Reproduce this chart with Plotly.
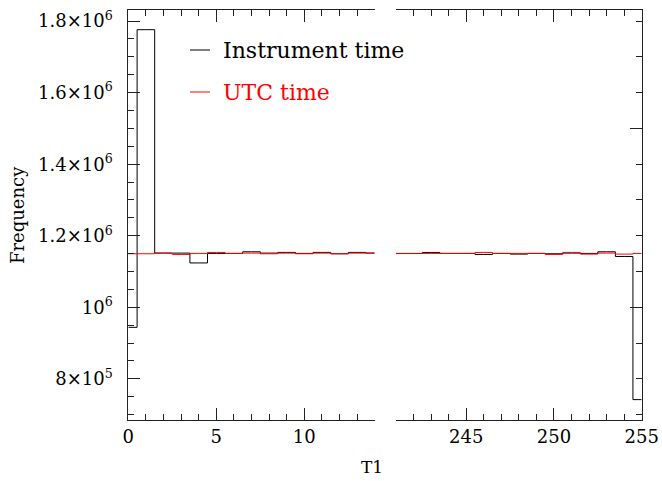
import plotly.graph_objects as go

# Bin centres for the two ends of the T1 range
t1_low = list(range(0, 15))
t1_high = list(range(241, 256))

# Counts per T1 value
instrument_low = [0.944e6, 1.776e6, 1.1515e6, 1.1515e6, 1.124e6, 1.1506e6, 1.1506e6,
                  1.1552e6, 1.1515e6, 1.1534e6, 1.1506e6, 1.1534e6, 1.1497e6, 1.1534e6, 1.1515e6]
utc_low = [1.1497e6, 1.1497e6, 1.1515e6, 1.1478e6, 1.1506e6, 1.1534e6, 1.1506e6,
           1.1515e6, 1.1497e6, 1.1515e6, 1.1497e6, 1.1515e6, 1.1497e6, 1.1515e6, 1.1515e6]
instrument_high = [1.1503e6, 1.1503e6, 1.1533e6, 1.1506e6, 1.1506e6, 1.1478e6, 1.1506e6,
                   1.1487e6, 1.1506e6, 1.1497e6, 1.1515e6, 1.1506e6, 1.1552e6, 1.142e6, 0.742e6]
utc_high = [1.1506e6, 1.1506e6, 1.1506e6, 1.1506e6, 1.1506e6, 1.1534e6, 1.1506e6,
            1.1506e6, 1.1506e6, 1.1478e6, 1.1534e6, 1.1487e6, 1.1515e6, 1.1487e6, 1.1506e6]

# Left-axis tick labels
y_major = [0.8e6, 1.0e6, 1.2e6, 1.4e6, 1.6e6, 1.8e6]
y_major_text = ["8×10<sup>5</sup>", "10<sup>6</sup>", "1.2×10<sup>6</sup>",
                "1.4×10<sup>6</sup>", "1.6×10<sup>6</sup>", "1.8×10<sup>6</sup>"]

FONT = "DejaVu Serif"
AX = "#222222"
y_range = [0.685e6, 1.831e6]
W, H = 662, 481

fig = go.Figure()
fig.add_trace(go.Scatter(x=t1_low, y=instrument_low, mode="lines", line_shape="hvh",
                         line=dict(color="black", width=1), xaxis="x", yaxis="y",
                         showlegend=False))
fig.add_trace(go.Scatter(x=t1_low, y=utc_low, mode="lines", line_shape="hvh",
                         line=dict(color="red", width=1), xaxis="x", yaxis="y",
                         showlegend=False))
fig.add_trace(go.Scatter(x=t1_high, y=instrument_high, mode="lines", line_shape="hvh",
                         line=dict(color="black", width=1), xaxis="x2", yaxis="y2",
                         showlegend=False))
fig.add_trace(go.Scatter(x=t1_high, y=utc_high, mode="lines", line_shape="hvh",
                         line=dict(color="red", width=1), xaxis="x2", yaxis="y2",
                         showlegend=False))

xdom1 = [128.3 / W, 374.7 / W]
xdom2 = [396.0 / W, 641.7 / W]
ydom = [1 - 420 / H, 1 - 10 / H]

common_x = dict(ticks="inside", ticklen=12, tickwidth=1, tickcolor=AX,
                showline=True, linecolor=AX, linewidth=1, mirror="ticks",
                showgrid=False, zeroline=False, automargin=False,
                tickfont=dict(family=FONT, size=18, color="black"))

fig.update_layout(
    width=W, height=H,
    margin=dict(l=0, r=0, t=0, b=0, autoexpand=False),
    paper_bgcolor="white", plot_bgcolor="white",
    xaxis=dict(domain=xdom1, range=[0, 14], anchor="y",
               tickmode="array", tickvals=[0, 5, 10],
               minor=dict(tickvals=list(range(0, 15)), ticks="inside", ticklen=6,
                          tickcolor=AX, showgrid=False),
               **common_x),
    xaxis2=dict(domain=xdom2, range=[241, 255], anchor="y2",
                tickmode="array", tickvals=[245, 250, 255],
                minor=dict(tickvals=list(range(241, 256)), ticks="inside", ticklen=6,
                           tickcolor=AX, showgrid=False),
                **common_x),
    yaxis=dict(domain=ydom, range=y_range, anchor="x",
               tickmode="array", tickvals=y_major, ticktext=y_major_text,
               ticks="inside", ticklen=12, tickwidth=1, tickcolor=AX,
               minor=dict(tickvals=[0.7e6 + 0.05e6 * i for i in range(23)],
                          ticks="inside", ticklen=6, tickcolor=AX, showgrid=False),
               showline=True, linecolor=AX, linewidth=1, mirror=False,
               showgrid=False, zeroline=False, ticklabelstandoff=11, automargin=False,
               tickfont=dict(family=FONT, size=18, color="black")),
    yaxis2=dict(domain=ydom, range=y_range, anchor="x2", side="right",
                tickmode="array", tickvals=[1.0e6, 1.5e6], showticklabels=False,
                ticks="inside", ticklen=12, tickwidth=1, tickcolor=AX,
                minor=dict(tickvals=[0.7e6 + 0.1e6 * i for i in range(12)],
                           ticks="inside", ticklen=6, tickcolor=AX, showgrid=False),
                showline=True, linecolor=AX, linewidth=1, mirror=False,
                showgrid=False, zeroline=False, automargin=False),
)

# Axis titles
fig.add_annotation(text="Frequency", xref="paper", yref="paper",
                   x=17 / W, y=1 - 215 / H, xanchor="center", yanchor="middle",
                   textangle=-90, showarrow=False,
                   font=dict(family=FONT, size=18, color="black"))
fig.add_annotation(text="T1", xref="paper", yref="paper",
                   x=372 / W, y=1 - 467 / H, xanchor="center", yanchor="middle",
                   showarrow=False,
                   font=dict(family=FONT, size=17, color="black"))

# Legend: short line sample plus label
legend_items = [("Instrument time", "black", 50), ("UTC time", "red", 92)]
for label, color, ypx in legend_items:
    yp = 1 - ypx / H
    fig.add_shape(type="line", xref="paper", yref="paper",
                  x0=190 / W, x1=210 / W, y0=yp, y1=yp,
                  line=dict(color=color, width=1))
    fig.add_annotation(text=label, xref="paper", yref="paper",
                       x=221 / W, y=yp, xanchor="left", yanchor="middle",
                       showarrow=False,
                       font=dict(family=FONT, size=22, color=color))

fig.write_html("out.html")
